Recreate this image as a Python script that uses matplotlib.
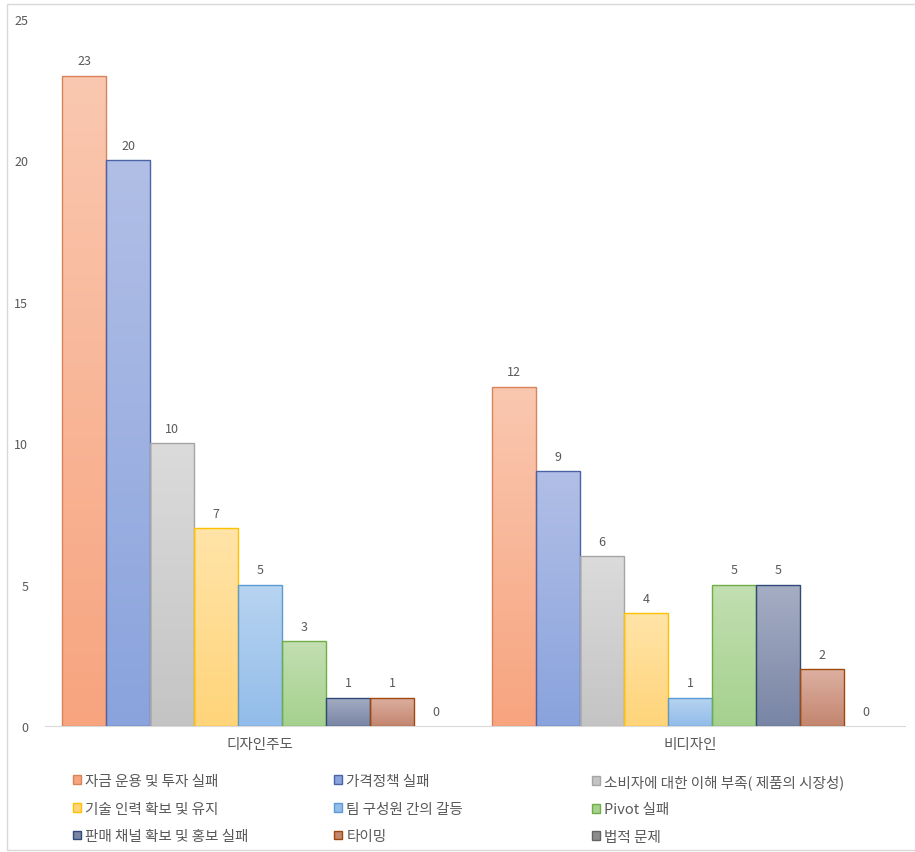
import numpy as np
import matplotlib
matplotlib.use("Agg")
import matplotlib.pyplot as plt
from matplotlib.patches import Patch, Rectangle
from matplotlib.colors import to_rgb

plt.rcParams['font.family'] = ['Noto Sans CJK KR', 'DejaVu Sans']

categories = ["디자인주도", "비디자인"]
series_names = [
    "자금 운용 및 투자 실패", "가격정책 실패", "소비자에 대한 이해 부족( 제품의 시장성)",
    "기술 인력 확보 및 유지", "팀 구성원 간의 갈등", "Pivot 실패",
    "판매 채널 확보 및 홍보 실패", "타이밍", "법적 문제",
]
values = [
    [23, 12],
    [20, 9],
    [10, 6],
    [7, 4],
    [5, 1],
    [3, 5],
    [1, 5],
    [1, 2],
    [0, 0],
]
# (top, bottom, edge)
colors = [
    ("#FAC8B0", "#F7A47F", "#D9835A"),
    ("#B1BFE6", "#8AA3DD", "#4B63A6"),
    ("#DBDBDB", "#C4C4C4", "#A5A5A5"),
    ("#FFE4A8", "#FFD47A", "#FFC000"),
    ("#B8D4F1", "#92BCE9", "#5B9BD5"),
    ("#C2DFB1", "#A5D18E", "#70AD47"),
    ("#A6AEC4", "#7985A5", "#2F4A7A"),
    ("#DDB0A1", "#C3866F", "#9E480E"),
    ("#B0B0B0", "#8C8C8C", "#636363"),
]
text_color = "#595959"

W, H = 915, 853
fig = plt.figure(figsize=(W / 100, H / 100), dpi=100)
ax = fig.add_axes([45 / W, (H - 727) / H, 860 / W, 707 / H])

# outer chart border
fig.patches.append(Rectangle((7 / W, 0.002), 1.0, (H - 5) / H - 0.002, transform=fig.transFigure,
                             fill=False, edgecolor="#D9D9D9", linewidth=1))

n = len(series_names)
x = np.arange(len(categories))
bw = 0.1023
for i, (vals, (top, bot, edge)) in enumerate(zip(values, colors)):
    pos = x - bw * n / 2 + bw * (i + 0.5)
    bars = ax.bar(pos, vals, width=bw, color=bot, linewidth=0, zorder=2)
    grad = np.linspace(0, 1, 256)[:, None]
    c0, c1 = np.array(to_rgb(top)), np.array(to_rgb(bot))
    img = (c0[None, None, :] * (1 - grad[..., None]) + c1[None, None, :] * grad[..., None])
    for b, v in zip(bars, vals):
        if v > 0:
            im = ax.imshow(img, extent=[b.get_x(), b.get_x() + bw, 0, v], aspect="auto",
                           origin="upper", zorder=2.5, interpolation="bilinear")
            im.set_clip_path(b)
            ax.add_patch(Rectangle((b.get_x(), 0), bw, v, fill=False, edgecolor=edge,
                                   linewidth=1, zorder=3))
        ax.annotate(str(v), (b.get_x() + bw / 2, v), xytext=(0, 6), textcoords="offset points",
                    ha="center", va="bottom", fontsize=9, color=text_color)

ax.set_xlim(-0.5, 1.5)
ax.set_ylim(0, 25)
ax.set_yticks([0, 5, 10, 15, 20, 25])
ax.set_xticks(x)
ax.set_xticklabels(categories, fontsize=10.5)
ax.tick_params(axis="both", length=0, colors=text_color)
ax.tick_params(axis="y", pad=12, labelsize=9)
ax.tick_params(axis="x", pad=8)
for s in ["top", "right", "left"]:
    ax.spines[s].set_visible(False)
ax.spines["bottom"].set_color("#D9D9D9")

handles = [Patch(facecolor=c[1], edgecolor=c[2], linewidth=1) for c in colors]
col_x = [73, 334, 592]
for col in range(3):
    idx = [col, col + 3, col + 6]
    leg = fig.legend([handles[k] for k in idx], [series_names[k] for k in idx],
                     loc="upper left", bbox_to_anchor=(col_x[col] / W, (H - 775) / H),
                     frameon=False, fontsize=10.5, handlelength=0.55, handleheight=0.55,
                     handletextpad=0.3, labelspacing=0.93, borderpad=0, borderaxespad=0)
    for t in leg.get_texts():
        t.set_color(text_color)

fig.savefig("out.png", dpi=100)
